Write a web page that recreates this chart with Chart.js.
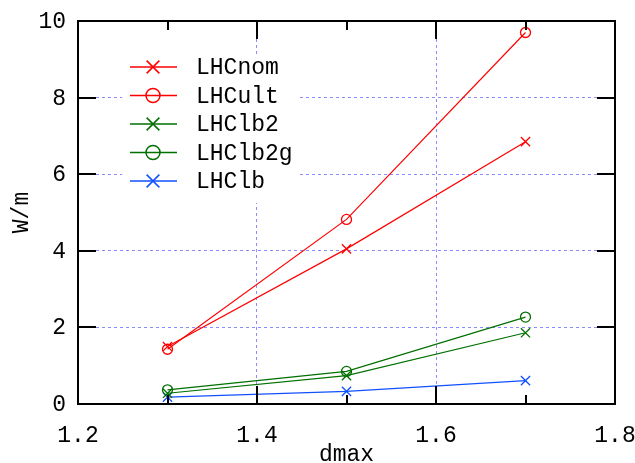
<!DOCTYPE html>
<html><head><meta charset="utf-8">
<script src="https://cdn.jsdelivr.net/npm/chart.js@4/dist/chart.umd.min.js"></script>
<style>html,body{margin:0;padding:0;background:#fff}#wrap{width:635px;height:463px;position:relative}</style>
</head><body><div id="wrap"><canvas id="c"></canvas></div>
<script>
const xValues = [1.3, 1.5, 1.7];
const lhcNom  = [1.50, 4.05, 6.85];
const lhcUlt  = [1.43, 4.82, 9.70];
const lhcLb2  = [0.28, 0.74, 1.86];
const lhcLb2g = [0.37, 0.85, 2.27];
const lhcLb   = [0.18, 0.33, 0.61];
const seriesNames = ['LHCnom', 'LHCult', 'LHClb2', 'LHClb2g', 'LHClb'];
const seriesColors = ['#ff0000', '#ff0000', '#007000', '#007000', '#1050ff'];
const seriesMarkers = ['crossRot', 'circle', 'crossRot', 'circle', 'crossRot'];
const xTickLabels = ['1.2', '1.4', '1.6', '1.8'];
const yTickLabels = ['0', '2', '4', '6', '8', '10'];
const xMin = 1.2, xMax = 1.8, xStep = 0.2, xMinorStep = 0.1;
const yMin = 0, yMax = 10, yStep = 2;
const xTitle = 'dmax', yTitle = 'W/m';
const FONT = '"Liberation Mono", "DejaVu Sans Mono", monospace';
const FS = 23;

const allSeries = [lhcNom, lhcUlt, lhcLb2, lhcLb2g, lhcLb];
const datasets = allSeries.map((vals, i) => ({
  label: seriesNames[i],
  data: xValues.map((x, j) => ({x: x, y: vals[j]})),
  borderColor: seriesColors[i],
  backgroundColor: 'rgba(0,0,0,0)',
  borderWidth: 1.2,
  pointStyle: seriesMarkers[i],
  pointRadius: seriesMarkers[i] === 'circle' ? 5 : 6.5,
  pointBorderWidth: 1.3,
  pointBorderColor: seriesColors[i],
  pointBackgroundColor: 'rgba(0,0,0,0)',
  tension: 0
}));

const gnuplotPlugin = {
  id: 'gnu',
  beforeDatasetsDraw(chart) {
    const ctx = chart.ctx;
    ctx.save();
    ctx.fillStyle = '#fff';
    ctx.fillRect(122, 55, 176, 148);
    ctx.restore();
  },
  afterDatasetsDraw(chart) {
    const ctx = chart.ctx, a = chart.chartArea;
    const xs = chart.scales.x, ys = chart.scales.y;
    ctx.save();
    ctx.strokeStyle = '#000';
    ctx.lineWidth = 2;
    ctx.beginPath();
    for (let v = xMin; v <= xMax + 1e-9; v += xStep) {
      const px = Math.round(xs.getPixelForValue(v));
      ctx.moveTo(px, a.bottom); ctx.lineTo(px, a.bottom - 18);
      ctx.moveTo(px, a.top); ctx.lineTo(px, a.top + 18);
    }
    for (let v = xMin + xMinorStep; v < xMax; v += xStep) {
      const px = Math.round(xs.getPixelForValue(v));
      ctx.moveTo(px, a.bottom); ctx.lineTo(px, a.bottom - 9);
      ctx.moveTo(px, a.top); ctx.lineTo(px, a.top + 9);
    }
    for (let v = yMin; v <= yMax + 1e-9; v += yStep) {
      const py = Math.round(ys.getPixelForValue(v));
      ctx.moveTo(a.left, py); ctx.lineTo(a.left + 18, py);
      ctx.moveTo(a.right, py); ctx.lineTo(a.right - 18, py);
    }
    ctx.stroke();
    ctx.strokeRect(a.left, a.top, a.right - a.left, a.bottom - a.top);

    // tick labels
    ctx.font = FS + 'px ' + FONT;
    ctx.fillStyle = '#000';
    ctx.textBaseline = 'middle';
    ctx.textAlign = 'center';
    xTickLabels.forEach(t => ctx.fillText(t, xs.getPixelForValue(parseFloat(t)), 436));
    ctx.textAlign = 'right';
    yTickLabels.forEach(t => ctx.fillText(t, 66, ys.getPixelForValue(parseFloat(t)) + 1));

    // legend
    ctx.textAlign = 'left';
    chart.data.datasets.forEach((ds, i) => {
      const y = 67 + i * 28.5;
      ctx.strokeStyle = ds.borderColor;
      ctx.fillStyle = 'rgba(0,0,0,0)';
      ctx.lineWidth = 1.5;
      ctx.beginPath(); ctx.moveTo(130, y); ctx.lineTo(177, y); ctx.stroke();
      Chart.helpers.drawPoint(ctx, {
        pointStyle: ds.pointStyle,
        radius: ds.pointStyle === 'circle' ? 7 : 9,
        rotation: 0,
        borderWidth: 1.5
      }, 153, y);
      ctx.fillStyle = '#000';
      ctx.fillText(ds.label, 196, y + 1);
    });

    // axis titles
    ctx.fillStyle = '#000';
    ctx.textAlign = 'center';
    ctx.fillText(xTitle, (a.left + a.right) / 2, 455);
    ctx.translate(22, (a.top + a.bottom) / 2);
    ctx.rotate(-Math.PI / 2);
    ctx.fillText(yTitle, 0, 0);
    ctx.restore();
  }
};

new Chart(document.getElementById('c'), {
  type: 'line',
  data: { datasets: datasets },
  options: {
    responsive: true,
    maintainAspectRatio: false,
    animation: false,
    layout: { padding: { left: 0, right: 20, top: 21, bottom: 0 } },
    plugins: { legend: { display: false }, tooltip: { enabled: false } },
    scales: {
      x: {
        type: 'linear', min: xMin, max: xMax,
        afterFit(s) { s.height = 59; },
        border: { display: false, dash: [3, 3] },
        grid: { color: '#8c8cff', lineWidth: 1, drawTicks: false },
        ticks: { stepSize: xStep, display: false }
      },
      y: {
        type: 'linear', min: yMin, max: yMax,
        afterFit(s) { s.width = 78; },
        border: { display: false, dash: [3, 3] },
        grid: { color: '#8c8cff', lineWidth: 1, drawTicks: false },
        ticks: { stepSize: yStep, display: false }
      }
    }
  },
  plugins: [gnuplotPlugin]
});
</script>
</body></html>
